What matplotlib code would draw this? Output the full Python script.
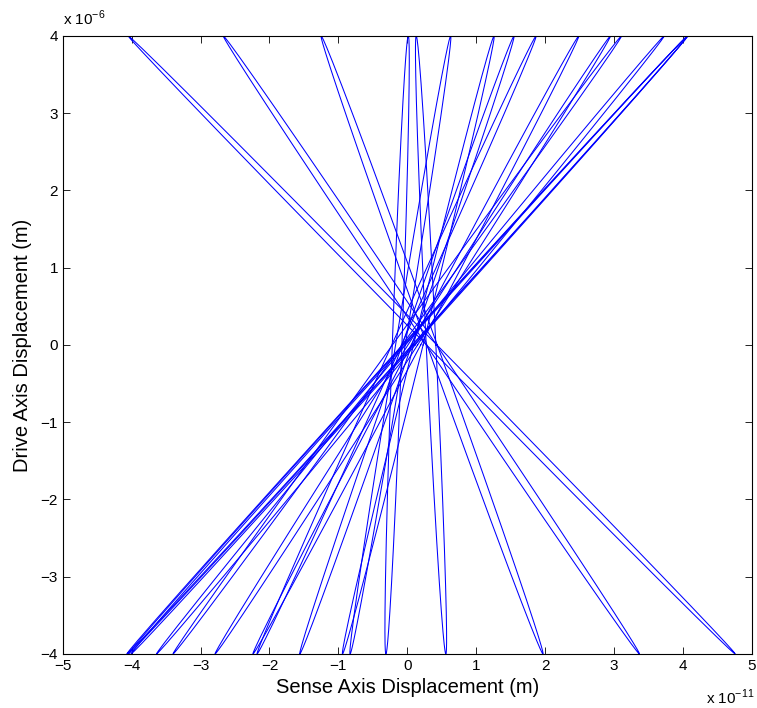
import numpy as np
import matplotlib.pyplot as plt

plt.rcParams['font.family'] = ['Liberation Sans', 'DejaVu Sans']
plt.rcParams['mathtext.fontset'] = 'custom'
plt.rcParams['mathtext.rm'] = 'Liberation Sans'

# each orbit: sense position (x 1e-11 m) where it touches the top (+4e-6 m)
# and the bottom (-4e-6 m) of the drive swing, and its half opening at y=0
top_x = [-4.05, -2.67, -1.25, 0.13,
         0.015, 0.63, 1.26, 1.55, 1.87, 2.49, 2.95, 3.11, 3.73, 4.07, 4.07, 4.07]
bottom_x = [4.76, 3.37, 1.97, 0.56,
            -0.31, -0.83, -0.94, -1.56, -2.18, -2.24, -2.79, -3.40, -3.64, -4.01, -4.05, -4.07]
half_open = [0.075, 0.075, 0.075, 0.07,
             0.07, 0.07, 0.07, 0.07, 0.07, 0.07, 0.07, 0.07, 0.07, 0.07, 0.07, 0.07]
drive_amp = 4.0  # x 1e-6 m

phase = np.linspace(0, 2 * np.pi, 600)

fig = plt.figure(figsize=(7.57, 7.08), dpi=100)
ax = fig.add_axes([0.083, 0.0763, 0.910, 0.873])

for t, b, w in zip(top_x, bottom_x, half_open):
    mid = (t + b) / 2
    tilt = (t - b) / 2
    xs = mid + tilt * np.sin(phase) + w * np.cos(phase)
    ys = drive_amp * np.sin(phase)
    ax.plot(xs, ys, color='#0000ff', lw=0.75)

ax.set_xlim(-5, 5)
ax.set_ylim(-4, 4)
ax.set_xticks(range(-5, 6))
ax.set_yticks(range(-4, 5))
ax.tick_params(direction='in', top=True, right=True, labelsize=11, length=5, width=0.6)
for s in ax.spines.values():
    s.set_linewidth(0.8)

ax.set_xlabel('Sense Axis Displacement (m)', fontsize=14.5, labelpad=4)
ax.set_ylabel('Drive Axis Displacement (m)', fontsize=14.5, labelpad=6)
ax.text(0.0, 1.012, r'x 10$^{-6}$', transform=ax.transAxes, fontsize=11, va='bottom', ha='left')
fig.text(0.933, 0.006, r'x 10$^{-11}$', fontsize=11, va='baseline', ha='left')

plt.savefig('out.png', dpi=100)
